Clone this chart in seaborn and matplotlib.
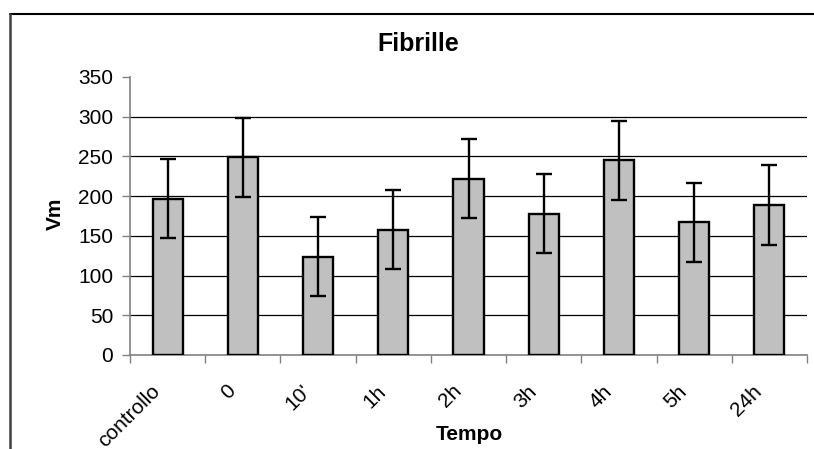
import matplotlib
matplotlib.use("Agg")
import matplotlib.pyplot as plt
from matplotlib.lines import Line2D
import seaborn as sns
import pandas as pd

# Data
categories = ["controllo", "0", "10'", "1h", "2h", "3h", "4h", "5h", "24h"]
vm_values = [197, 249, 124, 158, 222, 178, 245, 167, 189]
vm_errors = [50, 50, 50, 50, 50, 50, 50, 50, 50]
y_ticks = [0, 50, 100, 150, 200, 250, 300, 350]

sns.set_theme(style="white")
plt.rcParams["font.family"] = ["Liberation Sans", "DejaVu Sans"]
plt.rcParams["text.color"] = "black"
plt.rcParams["xtick.color"] = "black"
plt.rcParams["ytick.color"] = "black"

df = pd.DataFrame({"Tempo": categories, "Vm": vm_values})

W, H = 814, 449
fig = plt.figure(figsize=(W / 100, H / 100), dpi=100)
fig.patch.set_facecolor("white")

left, right, top, bottom = 130, 807, 77, 355
ax = fig.add_axes([left / W, 1 - bottom / H, (right - left) / W, (bottom - top) / H])

sns.barplot(data=df, x="Tempo", y="Vm", ax=ax, color="#C0C0C0",
            width=0.4, errorbar=None, saturation=1,
            edgecolor="black", linewidth=1.7, zorder=3)

ax.errorbar(range(len(categories)), vm_values, yerr=vm_errors, fmt="none",
            ecolor="black", elinewidth=1.7, capsize=6, capthick=1.7, zorder=4)

ax.set_ylim(0, 350)
ax.set_xlim(-0.5, len(categories) - 0.5)
ax.set_yticks(y_ticks)
ax.set_yticklabels([str(v) for v in y_ticks], fontsize=15)

# horizontal gridlines
for v in y_ticks[1:-1]:
    ax.axhline(v, color="black", lw=0.9, zorder=1)

# category boundary ticks on x axis; labels sit slightly left of each bar
ax.set_xticks([i - 0.5 for i in range(len(categories) + 1)])
ax.set_xticklabels([])
ax.set_xticks([i - 0.225 for i in range(len(categories))], minor=True)
ax.set_xticklabels(categories, minor=True, rotation=45, ha="right",
                   rotation_mode="anchor", fontsize=15)
ax.tick_params(axis="x", which="major", direction="out", length=6,
               width=1, color="#808080", bottom=True)
ax.tick_params(axis="x", which="minor", length=0, pad=19)
ax.tick_params(axis="y", direction="out", length=6, width=1,
               color="#808080", left=True, pad=6)

for side in ["top", "right"]:
    ax.spines[side].set_visible(False)
for side in ["left", "bottom"]:
    ax.spines[side].set_color("#808080")
    ax.spines[side].set_linewidth(1.2)

ax.set_xlabel("")
ax.set_ylabel("")
fig.text(469 / W, 1 - 434 / H, "Tempo", fontsize=15, fontweight="bold",
         ha="center", va="center")
fig.text(55 / W, 1 - 214 / H, "Vm", fontsize=15, fontweight="bold",
         ha="center", va="center", rotation=90)

fig.text(418.5 / W, 1 - 44 / H, "Fibrille", fontsize=18, fontweight="bold",
         ha="center", va="center")

# chart area border (top and left edges)
fig.add_artist(Line2D([10 / W, 1], [1 - 13.5 / H, 1 - 13.5 / H],
                      color="black", lw=1.5, transform=fig.transFigure))
fig.add_artist(Line2D([10 / W, 10 / W], [0, 1 - 13.5 / H],
                      color="#404040", lw=1.8, transform=fig.transFigure))

fig.savefig("out.png", dpi=100)
